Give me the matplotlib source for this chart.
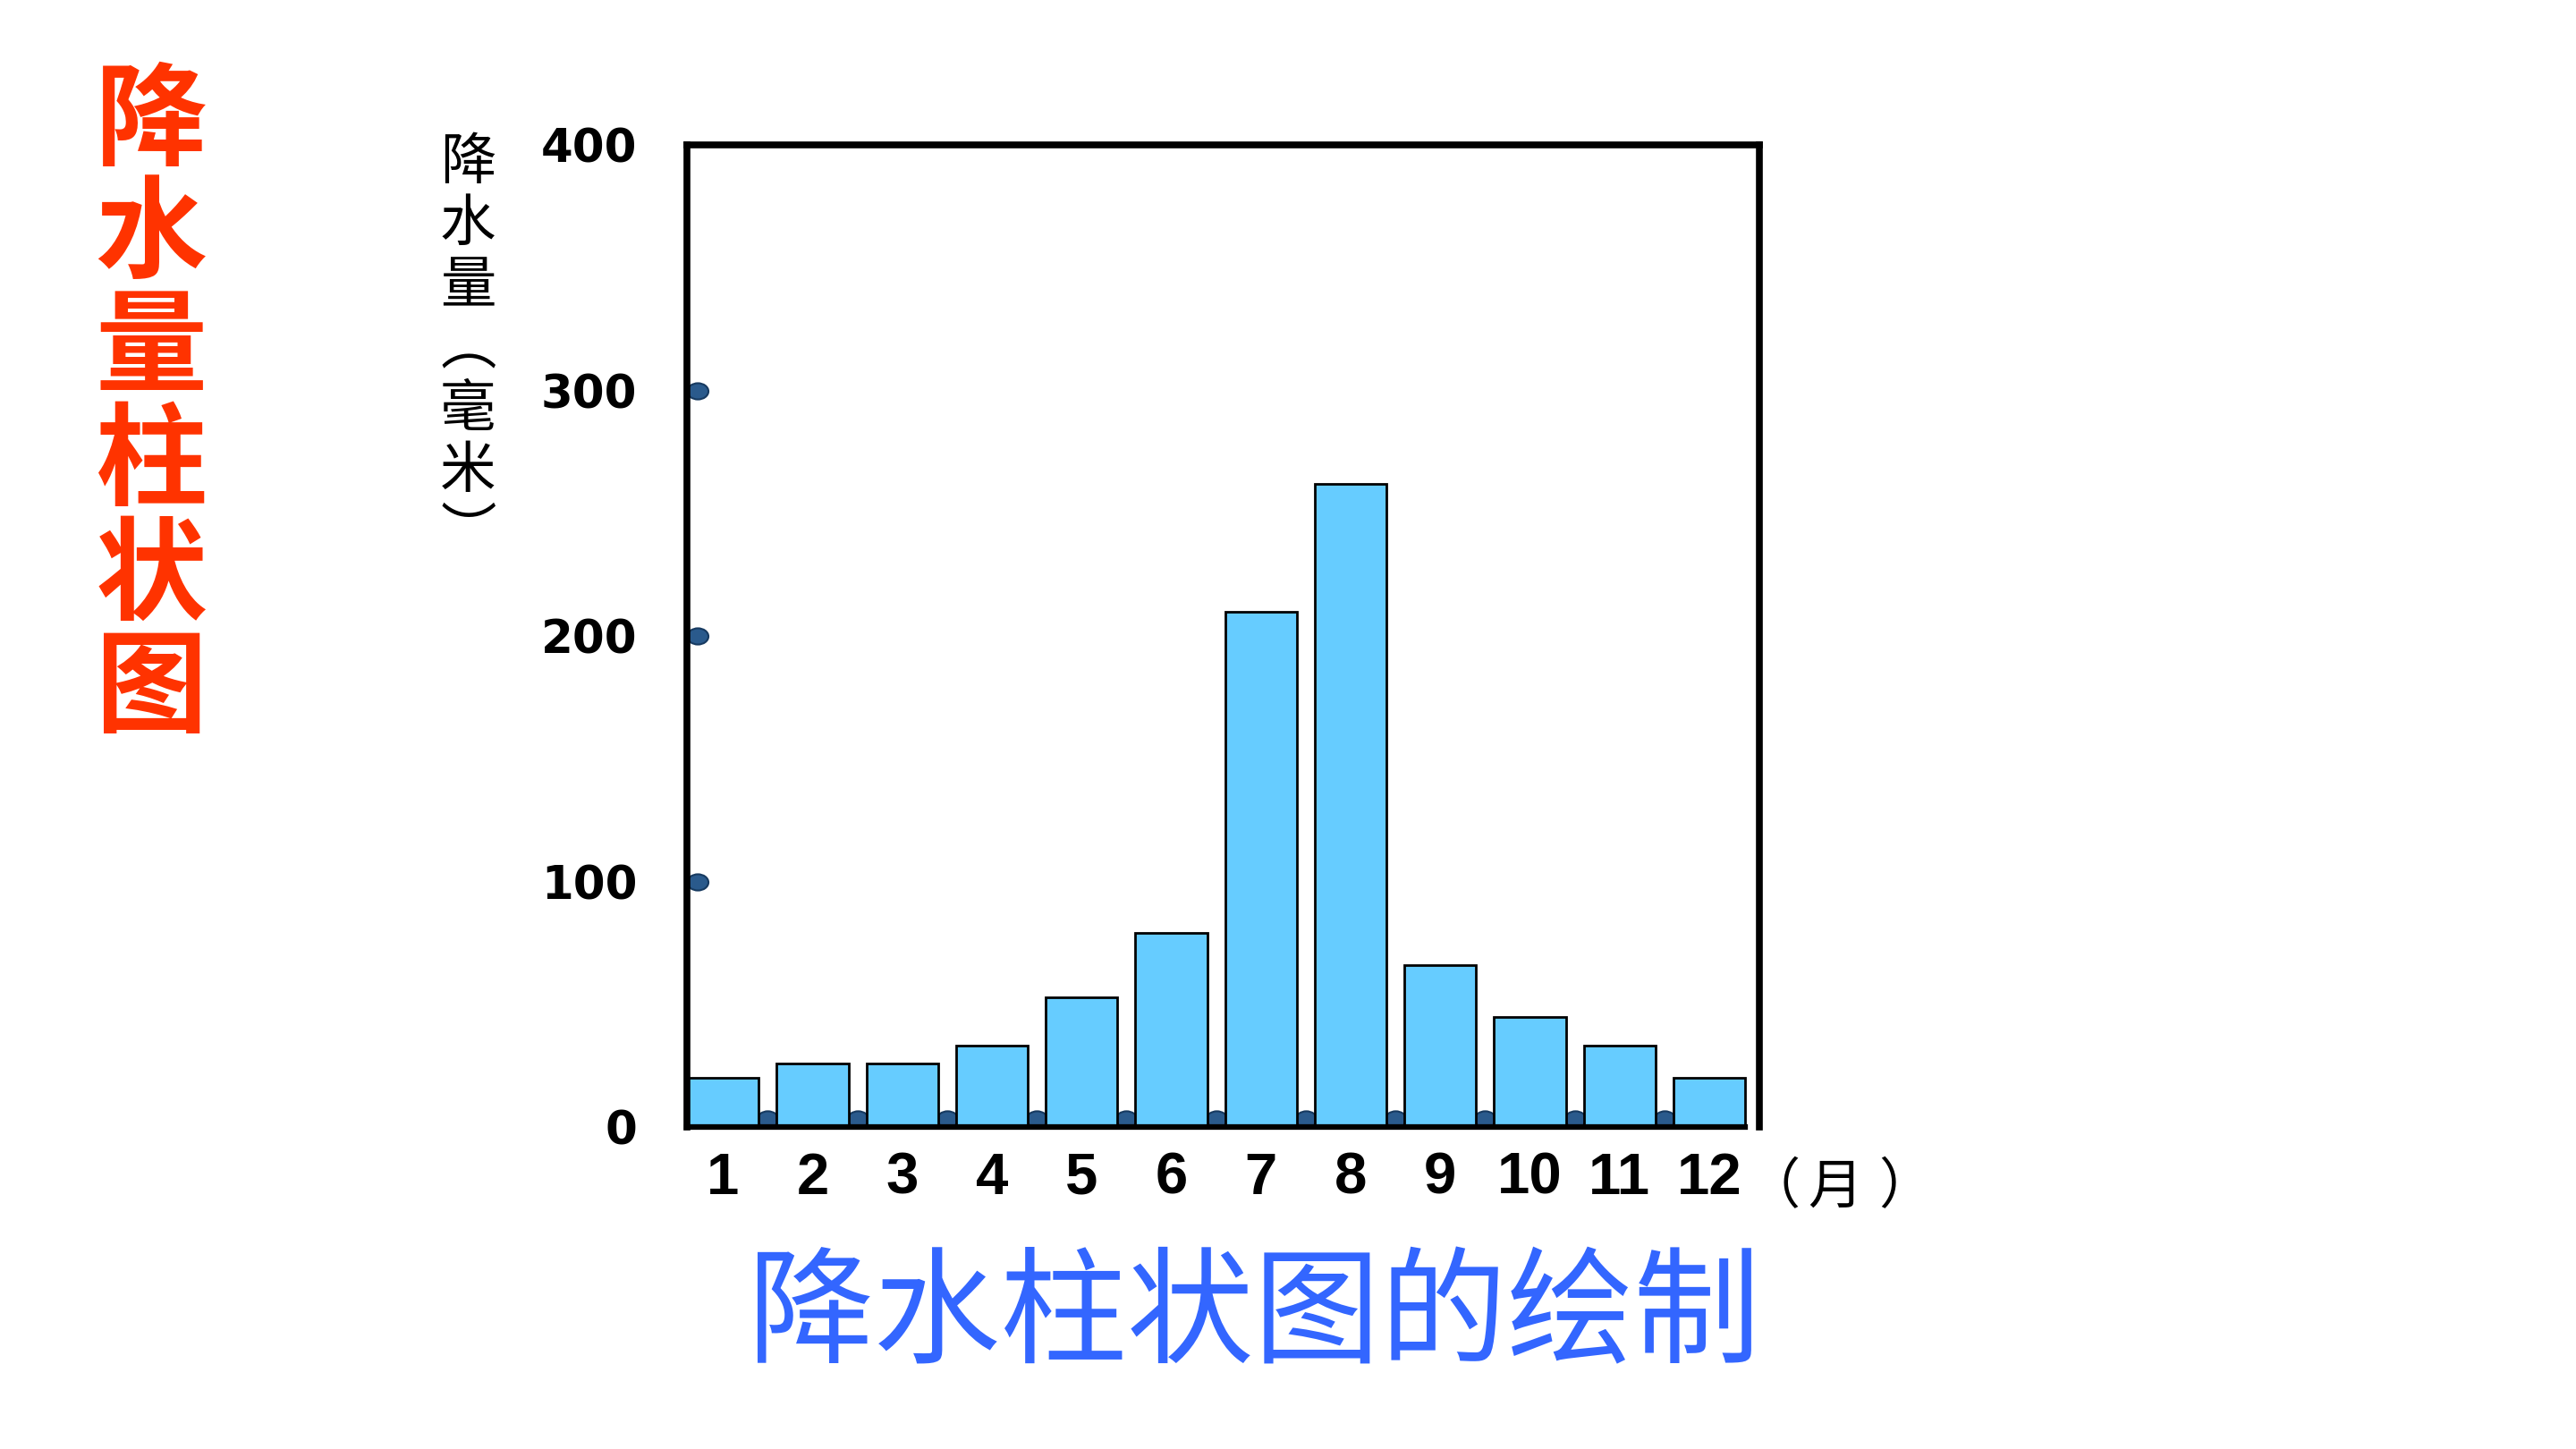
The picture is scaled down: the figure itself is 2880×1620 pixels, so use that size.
import numpy as np
import matplotlib
matplotlib.use("Agg")
import matplotlib.pyplot as plt
from matplotlib.path import Path
from matplotlib.transforms import Affine2D

# data
months = ["1", "2", "3", "4", "5", "6", "7", "8", "9", "10", "11", "12"]
rain = [20, 26, 26, 33, 53, 79, 210, 262, 66, 45, 33, 20]
y_ticks = [0, 100, 200, 300, 400]
y_dots = [100, 200, 300]

title_left = "降水量柱状图"
title_bottom = "降水柱状图的绘制"
ylabel_chars = ["降", "水", "量", "︵", "毫", "米", "︶"]
xunit_chars = ["（", "月", "）"]

CJK = ["Noto Sans CJK SC", "DejaVu Sans"]
bar_color = "#66CCFF"
dot_face = "#2A5A8C"
dot_edge = "#173A60"

# ellipse markers sitting on an axis (shifted so they rest on it)
circ = Path.unit_circle()
dot_up = Affine2D().scale(1.3, 1.0).translate(0, 1.0).transform_path(circ)
dot_right = Affine2D().scale(1.3, 1.0).translate(1.3, 0).transform_path(circ)

fig = plt.figure(figsize=(28.8, 16.2), dpi=100)
ax = fig.add_axes([0.2667, 0.2222, 0.4163, 0.6778])

x = np.arange(len(months))
ax.bar(x, rain, width=0.8, color=bar_color, edgecolor="black", linewidth=2.0, zorder=3)

# small dots along the bottom, mostly hidden behind bars
xd = x[:-1] + 0.5
ax.scatter(xd, np.zeros(len(xd)), marker=dot_up, s=680, color=dot_face,
           edgecolor=dot_edge, linewidth=1.5, zorder=2, clip_on=False)
# dots on the left axis
ax.scatter(np.full(len(y_dots), -0.4), y_dots, marker=dot_right, s=1150, color=dot_face,
           edgecolor=dot_edge, linewidth=1.5, zorder=4, clip_on=False)

ax.set_xlim(-0.4, 11.56)
ax.set_ylim(0, 400)
ax.set_yticks(y_ticks)
ax.set_yticklabels([str(v) for v in y_ticks], fontsize=37, fontweight="bold",
                   family="DejaVu Sans")
ax.set_xticks(x)
ax.set_xticklabels(months, fontsize=47, fontweight="bold",
                   family=["Liberation Sans", "DejaVu Sans"])
ax.tick_params(axis="y", length=0, pad=40)
ax.tick_params(axis="x", length=0, pad=20)

for s in ["left", "top", "right"]:
    ax.spines[s].set_linewidth(5.5)
    ax.spines[s].set_zorder(5)
ax.spines["bottom"].set_linewidth(4.5)
ax.spines["bottom"].set_bounds(-0.4, 11.4)
ax.spines["bottom"].set_zorder(5)

# fullwidth brackets sit at the edge of their em box, so nudge them outward
for xc, ch in zip([1982, 2052, 2131], xunit_chars):
    fig.text(xc / 2880, 1 - 1328 / 1620, ch, fontsize=44, family=CJK,
             va="center", ha="center")

# vertical y label
for i, ch in enumerate(ylabel_chars):
    fig.text(0.1817, 1 - (182 + 69 * i) / 1620, ch, fontsize=45, family=CJK,
             ha="center", va="center")

# red vertical title
for i, ch in enumerate(title_left):
    fig.text(0.0587, 1 - (138 + 127 * i) / 1620, ch, fontsize=90, family=CJK,
             fontweight="bold", color="#FF3300", ha="center", va="center")

fig.text(0.487, 0.091, title_bottom, fontsize=102, family=CJK, color="#3366FF",
         ha="center", va="center")

fig.savefig("out.png", dpi=100, facecolor="white")
